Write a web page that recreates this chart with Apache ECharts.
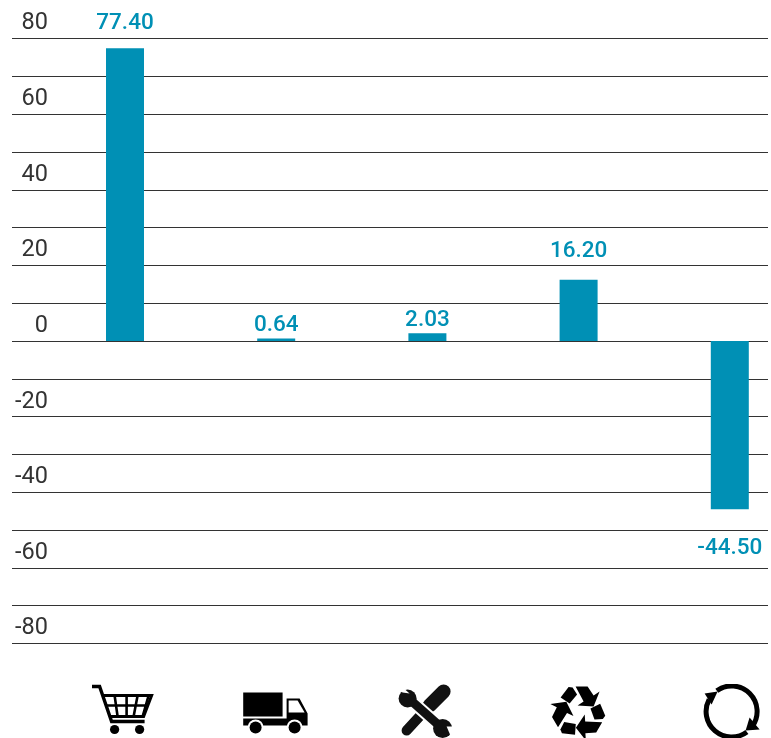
<!DOCTYPE html>
<html><head><meta charset="utf-8">
<style>html,body{margin:0;padding:0;background:#fff}#c{width:771px;height:738px}</style>
<script src="https://cdn.jsdelivr.net/npm/echarts@6/dist/echarts.min.js"></script>
</head><body><div id="c"></div>
<script>
const categories = ['cart', 'truck', 'tools', 'recycle', 'cycle'];
const values = [77.40, 0.64, 2.03, 16.20, -44.50];
const tickStep = 10;
const tickLabelStep = 20;
const axisMin = -80;
const axisMax = 80;
const labelGaps = [13, 2, 1, 17, 28];

const FONT = 'Roboto';
const BLUE = '#0090b5';
const ICON_W = 66, ICON_H = 56, ICON_TOP = 683;
const iconCentres = {cart: 125.4, truck: 276.6, tools: 427.8, recycle: 579, cycle: 730.2};
const recyclePair = '<path d="M576 686H588L594 695L600 691L594 706L578 705L584 701Z"/><path d="M561 697L569 686.5L573 687L577.5 694L570 703Z"/>';
const iconBodies = {
  cart: '<g fill="none" stroke="#000" stroke-width="2.6"><path d="M92 686H100L112 721H145" stroke-width="3.4"/><path d="M104 695H152L144 716H111" stroke-width="3"/><path d="M107 705H148M115 695L118 716M127 695V716M138 695L134 716M149 695L143 716"/></g><circle cx="115" cy="729" r="4.6"/><circle cx="140" cy="729" r="4.6"/>',
  truck: '<path d="M243 692H283V716H243Z"/><path d="M243 718H287V698H300L308 713V725H243Z"/><path d="M289 700H298L305 712H289Z" fill="#fff"/><circle cx="256" cy="727" r="8" fill="#fff"/><circle cx="295" cy="727" r="8" fill="#fff"/><circle cx="256" cy="727" r="6"/><circle cx="295" cy="727" r="6"/>',
  tools: '<path d="M444 691L430 705" stroke="#111" stroke-width="14" stroke-linecap="round"/><path d="M430 705L407 730" stroke="#111" stroke-width="10" stroke-linecap="round"/><path d="M408 697L444 729" stroke="#fff" stroke-width="13"/><path d="M408 697L444 729" stroke="#111" stroke-width="9"/><circle cx="408" cy="698" r="9"  fill="#111"/><circle cx="443" cy="728" r="9.5" fill="#111"/><path d="M403 692L396 688L402 686L410 693Z" fill="#fff"/><path d="M450 733L455 738L456 726L447 726Z" fill="#fff"/>',
  recycle: ['0', '120', '240'].map(a => '<g transform="rotate(' + a + ' 579 711.5)">' + recyclePair + '</g>').join(''),
  cycle: '<g fill="none" stroke="#000" stroke-width="5"><path d="M717.2 690.2A25.5 25.5 0 0 1 752.6 726"/><path d="M747.3 731.4A25.5 25.5 0 0 1 709.5 699"/></g><path d="M705 693L718 691L712 704Z"/><path d="M760 729L746 730L750 717Z"/>'
};
function iconUri(name) {
  const x0 = iconCentres[name] - ICON_W / 2;
  const svg = '<svg xmlns="http://www.w3.org/2000/svg" width="' + ICON_W + '" height="' + ICON_H + '" viewBox="' + x0 + ' ' + ICON_TOP + ' ' + ICON_W + ' ' + ICON_H + '">' + iconBodies[name] + '</svg>';
  return 'data:image/svg+xml;charset=utf-8,' + encodeURIComponent(svg);
}
const rich = {};
categories.forEach(n => { rich[n] = {width: ICON_W, height: ICON_H, backgroundColor: {image: iconUri(n)}}; });

const chart = echarts.init(document.getElementById('c'), null, {renderer: 'canvas'});
chart.setOption({
  animation: false,
  backgroundColor: '#fff',
  grid: [
    {left: 12, top: 38.5, width: 756, height: 605, outerBoundsMode: 'none'},
    {left: 49.4, top: 38.5, width: 756, height: 605, outerBoundsMode: 'none'}
  ],
  xAxis: [
    {gridIndex: 0, type: 'value', min: 0, max: 1, show: false},
    {gridIndex: 1, type: 'category', data: categories, position: 'bottom',
     axisLine: {show: false, onZero: false}, axisTick: {show: false},
     axisLabel: {show: true, interval: 0, margin: 40, hideOverlap: false, formatter: v => '{' + v + '|}', rich: rich}}
  ],
  yAxis: [
    {gridIndex: 0, type: 'value', min: axisMin, max: axisMax, interval: tickStep,
     axisLine: {show: false}, axisTick: {show: false},
     splitLine: {show: true, lineStyle: {color: '#333', width: 1}},
     axisLabel: {inside: true, margin: 36, align: 'right', verticalAlign: 'bottom', padding: [0, 0, 3, 0],
       fontFamily: FONT, fontSize: 23.5, fontWeight: 400, color: '#333',
       showMinLabel: true, showMaxLabel: true,
       formatter: v => (v % tickLabelStep === 0 ? String(v) : '')}},
    {gridIndex: 1, type: 'value', min: axisMin, max: axisMax, interval: tickStep, show: false}
  ],
  series: [{
    type: 'bar', xAxisIndex: 1, yAxisIndex: 1, barWidth: 38, z: 5,
    itemStyle: {color: BLUE},
    label: {show: true, fontFamily: FONT, fontSize: 22.5, fontWeight: 500, color: BLUE,
      formatter: p => p.value.toFixed(2)},
    data: values.map((v, i) => ({value: v, label: {position: v < 0 ? 'bottom' : 'top', distance: labelGaps[i]}}))
  }]
});
</script></body></html>
